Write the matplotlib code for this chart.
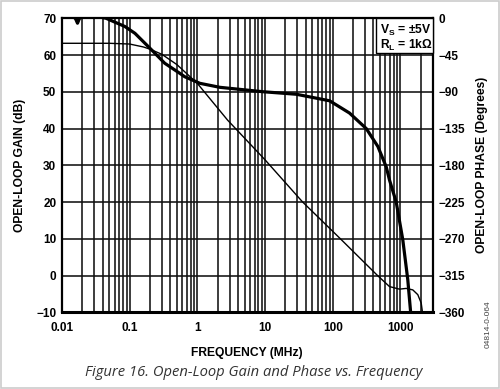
import matplotlib
matplotlib.use("Agg")
import matplotlib.pyplot as plt
from matplotlib.patches import Rectangle
from matplotlib.ticker import FixedLocator, LogLocator, NullFormatter

plt.rcParams['font.family'] = ['Liberation Sans', 'DejaVu Sans']
plt.rcParams['mathtext.fontset'] = 'custom'
plt.rcParams['mathtext.rm'] = 'Liberation Sans'
plt.rcParams['mathtext.bf'] = 'Liberation Sans:bold'

# ---- data ----
gain_freq = [0.01, 0.05, 0.1, 0.16, 0.2, 0.3, 0.5, 1.0, 2.8, 10, 36, 130, 460,
             690, 968, 1216, 1525, 1807, 2030, 2100, 2115]
gain_db = [63.2, 63.2, 63.0, 62.2, 61.6, 60.2, 57.4, 52.3, 42.3, 31.5, 20.0,
           10.0, 0.0, -3.0, -3.7, -3.5, -3.9, -5.2, -7.5, -9.5, -10.5]

phase_freq = [0.015, 0.016, 0.017, 0.018, 0.019, 0.03, 0.045, 0.051, 0.085,
              0.12, 0.2, 0.33, 0.55, 0.65, 1.09, 2.15, 9.3, 29, 90, 177, 313,
              465, 618, 690, 867, 1084, 1285, 1410, 1425]
phase_deg = [2, -1, -6, -1, 2, 3, 0, -2, -10, -18.4, -36.7, -55, -67.3, -71.5,
             -79.6, -84.5, -89.9, -93, -101, -116, -135, -157, -182, -198,
             -225, -271, -320, -358, -365]

x_ticks = [0.01, 0.1, 1, 10, 100, 1000]
x_tick_labels = ['0.01', '0.1', '1', '10', '100', '1000']
gain_ticks = [-10, 0, 10, 20, 30, 40, 50, 60, 70]
gain_tick_labels = ['\u221210', '0', '10', '20', '30', '40', '50', '60', '70']
phase_ticks = [-360, -315, -270, -225, -180, -135, -90, -45, 0]
phase_tick_labels = ['\u2212360', '\u2212315', '\u2212270', '\u2212225',
                     '\u2212180', '\u2212135', '\u221290', '\u221245', '0']

fig = plt.figure(figsize=(5.0, 3.89), dpi=100)
ax = fig.add_axes([61.9 / 500, 1 - 312.3 / 389, (432.7 - 61.9) / 500,
                   (312.3 - 18.3) / 389])

ax.set_xscale('log')
ax.set_xlim(0.01, 3000)
ax.set_ylim(-10, 70)

# grid
ax.xaxis.set_major_locator(FixedLocator(x_ticks))
ax.xaxis.set_minor_locator(LogLocator(base=10, subs=range(2, 10)))
ax.xaxis.set_minor_formatter(NullFormatter())
ax.set_xticklabels(x_tick_labels)
ax.set_yticks(gain_ticks)
ax.set_yticklabels(gain_tick_labels)
ax.grid(True, which='both', axis='x', color='#111111', linewidth=1.15)
ax.grid(True, which='major', axis='y', color='#111111', linewidth=1.15)
ax.set_axisbelow(True)

for s in ax.spines.values():
    s.set_linewidth(1.6)
    s.set_color('black')
ax.spines['bottom'].set_linewidth(2.2)

ax.tick_params(axis='both', which='both', length=0)
ax.tick_params(axis='x', pad=7, labelsize=8.5)
ax.tick_params(axis='y', pad=4, labelsize=8.5)
for lab in ax.get_xticklabels() + ax.get_yticklabels():
    lab.set_fontweight('bold')

ax.plot(gain_freq, gain_db, color='black', linewidth=1.0, clip_on=True)

ax2 = ax.twinx()
ax2.set_ylim(-360, 0)
ax2.set_yticks(phase_ticks)
ax2.set_yticklabels(phase_tick_labels)
ax2.tick_params(axis='y', length=0, pad=4, labelsize=8.5)
for lab in ax2.get_yticklabels():
    lab.set_fontweight('bold')
for s in ax2.spines.values():
    s.set_visible(False)
ax2.plot(phase_freq, phase_deg, color='black', linewidth=2.3,
         solid_joinstyle='round', clip_on=True)

ax.set_xlabel('FREQUENCY (MHz)', fontsize=8.7, fontweight='bold', labelpad=9)
ax.set_ylabel('OPEN-LOOP GAIN (dB)', fontsize=8.7, fontweight='bold',
              labelpad=7)
ax2.set_ylabel('OPEN-LOOP PHASE (Degrees)', fontsize=8.7, fontweight='bold',
               rotation=90, labelpad=8)

# condition box
box = Rectangle((376 / 500, 1 - 53 / 389), (432.7 - 376) / 500, (53 - 18.3) / 389,
                transform=fig.transFigure, facecolor='white', edgecolor='black',
                linewidth=1.0, zorder=5)
fig.patches.append(box)
fig.text(380 / 500, 1 - 30 / 389, 'V$_\\mathbf{S}$ = \u00b15V',
         fontsize=8.7, fontweight='bold', va='center', ha='left', zorder=6)
fig.text(380 / 500, 1 - 45 / 389, 'R$_\\mathbf{L}$ = 1k\u03a9',
         fontsize=8.7, fontweight='bold', va='center', ha='left', zorder=6)

# caption and side code
fig.text(254 / 500, 1 - 372.5 / 389,
         'Figure 16. Open-Loop Gain and Phase vs. Frequency',
         fontsize=10.6, fontstyle='italic', family='Open Sans', color='#333333',
         ha='center', va='center')
fig.text(488 / 500, 1 - 324 / 389, '04814-0-064', fontsize=6, rotation=90,
         color='#444444', ha='center', va='center')

# light frame around figure
frame = Rectangle((0.002, 0.003), 0.996, 0.994, transform=fig.transFigure,
                  facecolor='none', edgecolor='#cccccc', linewidth=1.2)
fig.patches.append(frame)

fig.savefig('out.png', dpi=100)
